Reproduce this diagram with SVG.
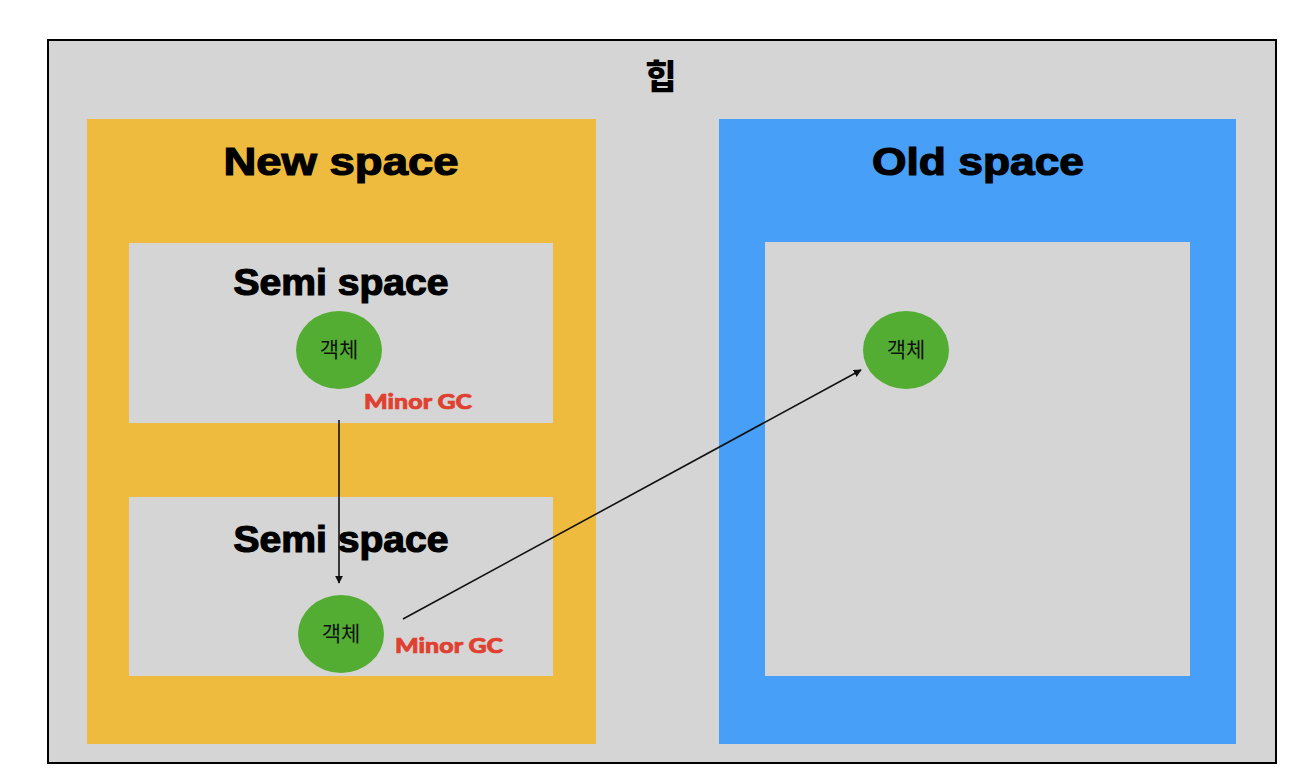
<svg xmlns="http://www.w3.org/2000/svg" width="1302" height="780" viewBox="0 0 1302 780">
<defs>
<style>
.title{font-family:"Liberation Sans",Arial,sans-serif;font-weight:bold;fill:#000;stroke:#000;stroke-width:1.2;text-anchor:middle}
.obj{fill:#52ad32}
.objt{font-family:"Noto Sans CJK KR",sans-serif;font-size:21px;fill:#111;text-anchor:middle}
.gc{font-family:Lato,"Liberation Sans",sans-serif;font-weight:900;font-size:21px;fill:#e0402f;stroke:#e0402f;stroke-width:0.7}
.inner{fill:#d5d5d5}
.conn{stroke:#111;stroke-width:1.6;fill:none;marker-end:url(#ah)}
</style>
<marker id="ah" viewBox="0 0 10 10" refX="9" refY="5" markerWidth="8" markerHeight="8" markerUnits="userSpaceOnUse" orient="auto"><path d="M0,0 L10,5 L0,10 z" fill="#111"/></marker>
</defs>
<rect width="1302" height="780" fill="#fff"/>
<g id="heap">
<rect x="48" y="40" width="1228" height="723" fill="#d5d5d5" stroke="#000" stroke-width="2"/>
<text x="661" y="89" font-family="'Noto Sans CJK KR',sans-serif" font-weight="900" font-size="34" text-anchor="middle" fill="#000">힙</text>
</g>
<g id="new-space">
<rect x="87" y="119" width="509" height="625" fill="#eebb3f"/>
<text class="title" x="341" y="175" font-size="38" textLength="235" lengthAdjust="spacingAndGlyphs">New space</text>
</g>
<g id="old-space">
<rect x="719" y="119" width="517" height="625" fill="#479ff8"/>
<text class="title" x="978" y="175" font-size="38" textLength="212" lengthAdjust="spacingAndGlyphs">Old space</text>
<rect class="inner" x="765" y="242" width="425" height="434"/>
</g>
<g id="semi-space-1">
<rect class="inner" x="129" y="243" width="424" height="180"/>
<text class="title" x="341" y="295" font-size="36" textLength="215" lengthAdjust="spacingAndGlyphs">Semi space</text>
</g>
<g id="semi-space-2">
<rect class="inner" x="129" y="497" width="424" height="179"/>
<text class="title" x="341" y="552" font-size="36" textLength="215" lengthAdjust="spacingAndGlyphs">Semi space</text>
</g>
<g id="object-1">
<ellipse class="obj" cx="339" cy="350" rx="43" ry="39"/>
<text class="objt" x="339" y="357">객체</text>
<text class="gc" x="364" y="409" textLength="108" lengthAdjust="spacingAndGlyphs">Minor GC</text>
</g>
<g id="object-2">
<ellipse class="obj" cx="341" cy="634" rx="43" ry="39"/>
<text class="objt" x="341" y="641">객체</text>
<text class="gc" x="395" y="653" textLength="108" lengthAdjust="spacingAndGlyphs">Minor GC</text>
</g>
<g id="object-3">
<ellipse class="obj" cx="906" cy="350" rx="43" ry="39"/>
<text class="objt" x="906" y="357">객체</text>
</g>
<g id="connectors">
<line class="conn" x1="339" y1="420" x2="339" y2="583"/>
<line class="conn" x1="403" y1="619" x2="861" y2="370"/>
</g>
</svg>
